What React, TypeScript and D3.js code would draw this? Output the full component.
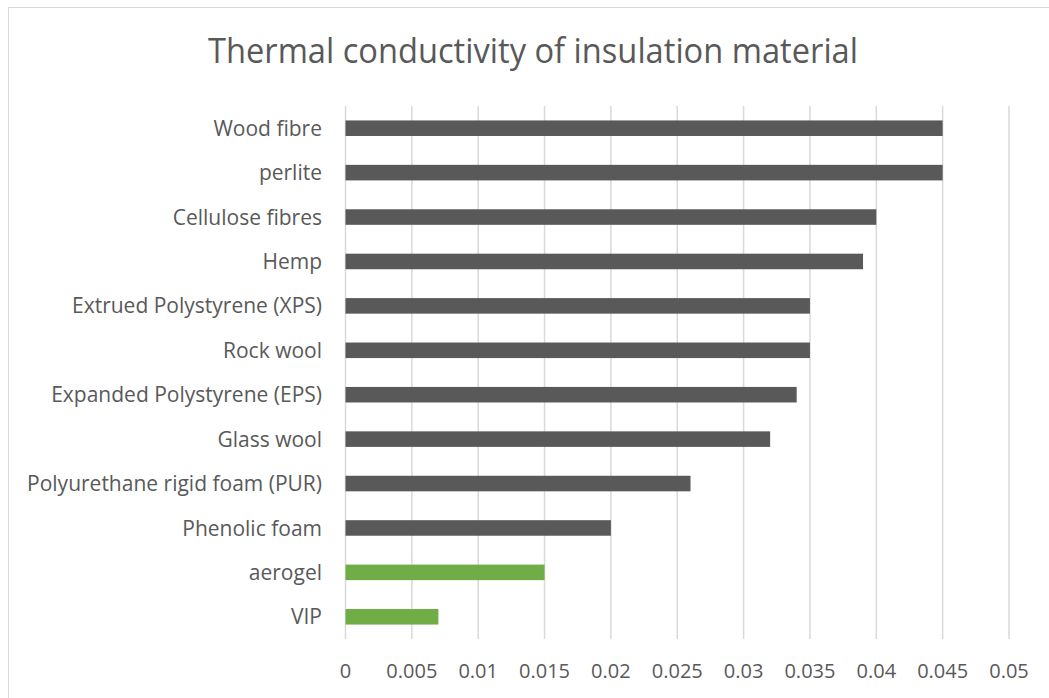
import React from "react";
import * as d3 from "d3";

const categories = [
  "Wood fibre",
  "perlite",
  "Cellulose fibres",
  "Hemp",
  "Extrued Polystyrene (XPS)",
  "Rock wool",
  "Expanded Polystyrene (EPS)",
  "Glass wool",
  "Polyurethane rigid foam (PUR)",
  "Phenolic foam",
  "aerogel",
  "VIP",
];
const values = [0.045, 0.045, 0.04, 0.039, 0.035, 0.035, 0.034, 0.032, 0.026, 0.02, 0.015, 0.007];
const highlighted = ["aerogel", "VIP"];
const ticks = [0, 0.005, 0.01, 0.015, 0.02, 0.025, 0.03, 0.035, 0.04, 0.045, 0.05];
const tickLabels = ["0", "0.005", "0.01", "0.015", "0.02", "0.025", "0.03", "0.035", "0.04", "0.045", "0.05"];
const title = "Thermal conductivity of insulation material";

const W = 1049;
const H = 698;
const FONT = "'Open Sans', sans-serif";
const TEXT = "#595959";

export default function App() {
  const x = d3.scaleLinear().domain([0, 0.05]).range([345.5, 1009]);
  const y = d3.scaleBand<string>().domain(categories).range([106, 639]).paddingInner(0.65).paddingOuter(0.325);
  return (
    <svg width={W} height={H} style={{ position: "absolute", left: 0, top: 0 }}>
      <rect x={0} y={0} width={W} height={H} fill="#fff" />
      <rect x={8.5} y={7.5} width={W + 20} height={H + 20} fill="none" stroke="#D9D9D9" strokeWidth={1} />
      <text x={533} y={63} textAnchor="middle" fontFamily={FONT} fontSize={34} fill={TEXT} textLength={650} lengthAdjust="spacingAndGlyphs">
        {title}
      </text>
      {ticks.map((t, i) => (
        <g key={i}>
          <line x1={x(t)} x2={x(t)} y1={106} y2={639} stroke="#D9D9D9" strokeWidth={1.5} />
          <text x={x(t)} y={678} textAnchor="middle" fontFamily={FONT} fontSize={20} fill={TEXT}>
            {tickLabels[i]}
          </text>
        </g>
      ))}
      {categories.map((c, i) => (
        <g key={c}>
          <rect
            x={x(0)}
            y={y(c)!}
            width={x(values[i]) - x(0)}
            height={y.bandwidth()}
            fill={highlighted.includes(c) ? "#70AD47" : "#595959"}
          />
          <text x={322} y={y(c)! + y.bandwidth() / 2} dy="0.36em" textAnchor="end" fontFamily={FONT} fontSize={21} fill={TEXT}>
            {c}
          </text>
        </g>
      ))}
    </svg>
  );
}
